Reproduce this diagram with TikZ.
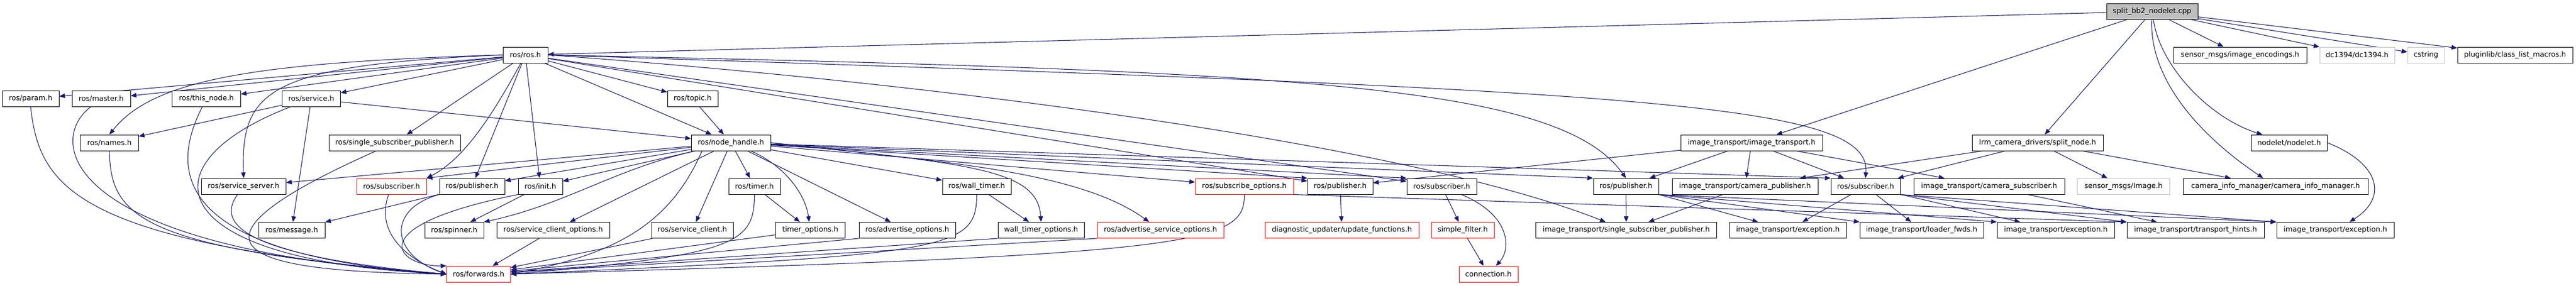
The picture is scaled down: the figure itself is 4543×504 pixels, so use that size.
\documentclass[tikz,border=0pt]{standalone}
\usepackage{fontspec}
\newfontfamily\djv{DejaVu Sans}
\usetikzlibrary{arrows.meta}
\definecolor{edgec}{HTML}{191970}
\definecolor{gbord}{HTML}{BFBFBF}
\definecolor{rbord}{HTML}{FF0000}
\pgfdeclarelayer{bg}
\pgfsetlayers{bg,main}
\tikzset{
  nb/.style={draw=black, fill=white, line width=0.75pt, minimum height=21pt, inner sep=0pt,
    font=\djv\fontsize{9.5pt}{11pt}\selectfont, text=black},
  bw/.style={minimum width=#1*0.75pt},
  rednode/.style={nb, draw=rbord},
  graynode/.style={nb, draw=gbord},
  topnode/.style={nb, fill=gbord},
  dep/.style={draw=edgec, line width=0.8pt, -{Triangle[length=7.5pt,width=6pt]}},
}
\begin{document}
\begin{tikzpicture}[x=0.75pt,y=-0.75pt]
\useasboundingbox (0,0) rectangle (4543,504);
% row 0
\node[topnode,bw=161] (S) at (3795.5,20) {split\_bb2\_nodelet.cpp};
% row 1
\node[nb,bw=79] (ros) at (926.5,97) {ros/ros.h};
\node[nb,bw=235] (enc) at (3950.5,97) {sensor\_msgs/image\_encodings.h};
\node[graynode,bw=132] (dc) at (4157,97) {dc1394/dc1394.h};
\node[graynode,bw=65] (cstr) at (4278.5,97) {cstring};
\node[nb,bw=203] (plug) at (4435.5,97) {pluginlib/class\_list\_macros.h};
% row 2
\node[nb,bw=100] (param) at (54,174.5) {ros/param.h};
\node[nb,bw=103] (master) at (178.5,174.5) {ros/master.h};
\node[nb,bw=120.5] (thisnode) at (364,174.5) {ros/this\_node.h};
\node[nb,bw=102.5] (service) at (549,174.5) {ros/service.h};
\node[nb,bw=89] (topic) at (1221.5,174.5) {ros/topic.h};
% row 3
\node[nb,bw=102.4] (names) at (193,252) {ros/names.h};
\node[nb,bw=232] (ssp) at (696,252) {ros/single\_subscriber\_publisher.h};
\node[nb,bw=140] (nh) at (1289,252) {ros/node\_handle.h};
\node[nb,bw=250] (it) at (3089,252) {image\_transport/image\_transport.h};
\node[nb,bw=231] (split) at (3593.5,252) {lrm\_camera\_drivers/split\_node.h};
\node[nb,bw=134] (nodelet) at (4037,252) {nodelet/nodelet.h};
% row 4
\node[nb,bw=149] (ssrv) at (429.5,329) {ros/service\_server.h};
\node[rednode,bw=123] (subA) at (690.5,329) {ros/subscriber.h};
\node[nb,bw=115] (pubA) at (832.5,329) {ros/publisher.h};
\node[nb,bw=78] (init) at (953,329) {ros/init.h};
\node[nb,bw=91] (timer) at (1330.5,329) {ros/timer.h};
\node[nb,bw=121] (wtimer) at (1722.5,329) {ros/wall\_timer.h};
\node[rednode,bw=173] (subopt) at (2194.5,329) {ros/subscribe\_options.h};
\node[nb,bw=115] (pubB) at (2363.5,329) {ros/publisher.h};
\node[nb,bw=123] (subB) at (2542.5,329) {ros/subscriber.h};
\node[nb,bw=115] (pubC) at (2867.5,329) {ros/publisher.h};
\node[nb,bw=257] (campub) at (3077.5,329) {image\_transport/camera\_publisher.h};
\node[nb,bw=122] (subC) at (3290,329) {ros/subscriber.h};
\node[nb,bw=266] (camsub) at (3508,329) {image\_transport/camera\_subscriber.h};
\node[graynode,bw=163] (img) at (3745,329) {sensor\_msgs/Image.h};
\node[nb,bw=326] (cim) at (4013,329) {camera\_info\_manager/camera\_info\_manager.h};
% row 5
\node[nb,bw=117] (msg) at (514.5,406.5) {ros/message.h};
\node[nb,bw=104] (spin) at (801,406.5) {ros/spinner.h};
\node[nb,bw=199] (sco) at (975.5,406.5) {ros/service\_client\_options.h};
\node[nb,bw=144] (sc) at (1221,406.5) {ros/service\_client.h};
\node[nb,bw=123] (topt) at (1429,406.5) {timer\_options.h};
\node[nb,bw=170] (aopt) at (1600,406.5) {ros/advertise\_options.h};
\node[nb,bw=152] (wtopt) at (1836,406.5) {wall\_timer\_options.h};
\node[rednode,bw=223] (asopt) at (2046.5,406.5) {ros/advertise\_service\_options.h};
\node[rednode,bw=271] (diag) at (2366.5,406.5) {diagnostic\_updater/update\_functions.h};
\node[rednode,bw=111] (sfilt) at (2579.5,406.5) {simple\_filter.h};
\node[nb,bw=318.5] (itssp) at (2868,406.5) {image\_transport/single\_subscriber\_publisher.h};
\node[nb,bw=206] (exc1) at (3153,406.5) {image\_transport/exception.h};
\node[nb,bw=218] (lfwd) at (3389,406.5) {image\_transport/loader\_fwds.h};
\node[nb,bw=207] (exc2) at (3625.5,406.5) {image\_transport/exception.h};
\node[nb,bw=242] (hints) at (3872,406.5) {image\_transport/transport\_hints.h};
\node[nb,bw=207] (exc3) at (4118.5,406.5) {image\_transport/exception.h};
% row 6
\node[rednode,bw=112.5] (fwd) at (844,484) {ros/forwards.h};
\node[rednode,bw=104] (conn) at (2625,484) {connection.h};

\begin{pgfonlayer}{bg}
\fill[white] (0,0) rectangle (4543,504);
% split_bb2_nodelet.cpp
\draw[dep] (S) -- (ros);
\draw[dep] (S) -- (enc);
\draw[dep] (S) -- (dc);
\draw[dep] (S) -- (cstr);
\draw[dep] (S) -- (plug);
\draw[dep] (S) -- (it);
\draw[dep] (S) -- (split);
\draw[dep] (S) .. controls (3790,140) and (3880,240) .. (cim);
\draw[dep] (S) .. controls (3810,120) and (3900,210) .. (nodelet);
% ros/ros.h
\draw[dep] (ros) -- (param);
\draw[dep] (ros) -- (master);
\draw[dep] (ros) -- (thisnode);
\draw[dep] (ros) -- (service);
\draw[dep] (ros) -- (topic);
\draw[dep] (ros) -- (ssp);
\draw[dep] (ros) -- (pubA);
\draw[dep] (ros) -- (init);
\draw[dep] (ros) -- (nh);
\draw[dep] (ros) -- (pubB);
\draw[dep] (ros) -- (subB);
\draw[dep] (ros.west) .. controls (450,110) and (270,140) .. (names.north);
\draw[dep] (ros.west) .. controls (470,115) and (425,160) .. (ssrv.north);
\draw[dep] (ros) .. controls (870,200) and (820,280) .. (subA.north east);
\draw[dep] (ros.east) .. controls (2300,125) and (2750,150) .. (pubC.north);
\draw[dep] (ros.east) .. controls (2900,160) and (3300,180) .. (subC.north);
\draw[dep] (ros.east) .. controls (1700,150) and (2500,260) .. (itssp);
% topic, service
\draw[dep] (topic) -- (nh);
\draw[dep] (service) -- (names);
\draw[dep] (service) -- (msg);
\draw[dep] (service) -- (nh);
\draw[dep] (service) .. controls (250,290) and (280,460) .. (fwd.west);
% node_handle
\draw[dep] (nh) -- (ssrv);
\draw[dep] (nh) -- (subA.north east);
\draw[dep] (nh) -- (pubA);
\draw[dep] (nh) -- (init);
\draw[dep] (nh) -- (sco);
\draw[dep] (nh) -- (sc);
\draw[dep] (nh) -- (timer);
\draw[dep] (nh) -- (aopt);
\draw[dep] (nh) -- (wtimer);
\draw[dep] (nh) -- (subopt);
\draw[dep] (nh) -- (pubB.north west);
\draw[dep] (nh) -- (subB.north west);
\draw[dep] (nh) -- (pubC.north west);
\draw[dep] (nh) -- (subC.north west);
\draw[dep] (nh) .. controls (1080,300) and (1000,360) .. (spin.north east);
\draw[dep] ([xshift=-38.25pt]nh.south) .. controls (1180,400) and (1080,450) .. (fwd.east);
\draw[dep] (nh) .. controls (1380,290) and (1420,340) .. (topt);
\draw[dep] (nh.east) .. controls (1720,290) and (1830,300) .. (wtopt.north);
\draw[dep] (nh.east) .. controls (1650,285) and (1900,300) .. (asopt);
% into ros/forwards.h
\draw[dep] (param.south) .. controls (70,330) and (130,430) .. (fwd.west);
\draw[dep] (master) .. controls (80,250) and (110,440) .. (fwd.west);
\draw[dep] (thisnode) .. controls (300,300) and (300,450) .. (fwd.west);
\draw[dep] (names.south) .. controls (195,380) and (240,440) .. (fwd.west);
\draw[dep] (ssrv) .. controls (385,390) and (410,450) .. (fwd.west);
\draw[dep] (ssp) .. controls (250,450) and (480,480) .. (fwd.west);
\draw[dep] (subA) .. controls (665,400) and (700,450) .. (fwd.west);
\draw[dep] (pubA.south west) .. controls (680,370) and (690,450) .. (fwd.west);
\draw[dep] (init.south west) .. controls (630,400) and (700,470) .. (fwd.north west);
\draw[dep] (sco) -- (fwd);
\draw[dep] (sc) -- (fwd);
\draw[dep] (topt) -- (fwd);
\draw[dep] (aopt.south west) -- (fwd);
\draw[dep] (wtopt.south west) -- (fwd);
\draw[dep] (asopt.south west) -- (fwd);
\draw[dep] (timer.south) .. controls (1330,430) and (1300,450) .. (fwd.east);
\draw[dep] (wtimer.south) .. controls (1722,440) and (1680,450) .. (fwd.east);
\draw[dep] (subopt.south) .. controls (2195,430) and (2120,450) .. (fwd.east);
% misc
\draw[dep] (pubA) -- (msg);
\draw[dep] (init) -- (spin);
\draw[dep] (timer) -- (topt);
\draw[dep] (wtimer) -- (wtopt);
\draw[dep] (pubB) -- (diag);
\draw[dep] (subB) -- (sfilt);
\draw[dep] (sfilt) -- (conn);
\draw[dep] (subB) .. controls (2665,380) and (2665,440) .. (conn);
% image_transport side
\draw[dep] (it) -- (pubB);
\draw[dep] (it) -- (pubC);
\draw[dep] (it) -- (campub);
\draw[dep] (it) -- (subC);
\draw[dep] (it) -- (camsub);
\draw[dep] (split) -- (campub);
\draw[dep] (split) -- (subC);
\draw[dep] (split) -- (img);
\draw[dep] (split) -- (cim);
\draw[dep] (nodelet.east) .. controls (4200,290) and (4210,350) .. ([xshift=18.75pt]exc3.north);
\draw[dep] (pubC) -- (itssp);
\draw[dep] (campub) -- (itssp);
\draw[dep] (pubC.south east) -- (exc1);
\draw[dep] (pubC.south east) -- (lfwd.north west);
\draw[dep] (pubC.south east) -- (exc2.north west);
\draw[dep] (pubC.south east) -- (exc3.north west);
\draw[dep] (subC) -- (exc1);
\draw[dep] (subC) -- (lfwd);
\draw[dep] (subC) -- (exc2);
\draw[dep] (subC.south east) -- (hints.north west);
\draw[dep] (subC.south east) -- (exc3.north west);
\draw[dep] (camsub) -- (hints);
\draw[dep] (subopt.south east) -- (hints.north west);
\end{pgfonlayer}
\end{tikzpicture}
\end{document}
